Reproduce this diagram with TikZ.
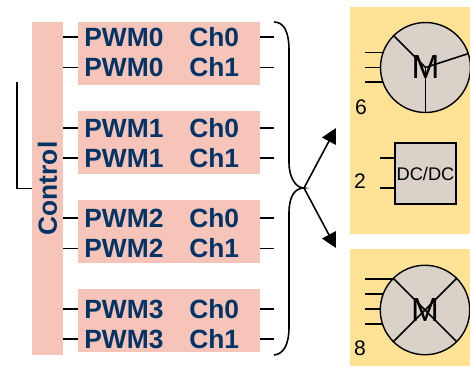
\documentclass[tikz,border=0pt]{standalone}
\usepackage{fontspec}
\setmainfont{Liberation Sans}
\usetikzlibrary{positioning, arrows.meta}
\definecolor{ctrlpink}{RGB}{246, 196, 184}
\definecolor{pwmnavy}{RGB}{0, 51, 102}
\definecolor{loadyellow}{RGB}{255, 226, 150}
\definecolor{motorgray}{RGB}{218, 210, 200}
\begin{document}
\begin{tikzpicture}[
        x=0.02cm, y=-0.02cm,
        pwmbox/.style={fill=ctrlpink, minimum width=3.64cm, minimum height=1.26cm, inner sep=0pt},
        pwmtxt/.style={font=\fontsize{15}{16}\selectfont\bfseries, text=pwmnavy, anchor=west,
            inner sep=0pt, text height=0.36cm, text depth=0cm},
        loadpanel/.style={fill=loadyellow, minimum width=2.4cm, inner sep=0pt},
        motor/.style={draw, circle, fill=motorgray, line width=0.8pt, minimum size=1.79cm, inner sep=0pt},
        wire/.style={line width=0.9pt},
        numlbl/.style={font=\fontsize{12}{14}\selectfont},
        mlbl/.style={font=\fontsize{19}{20}\selectfont, inner sep=0pt}
    ]
    \useasboundingbox (0, 0) rectangle (470, 366);

    % === Control bar ===
    \node[fill=ctrlpink, rotate=90, minimum width=6.66cm, minimum height=0.62cm, inner sep=0pt,
          font=\fontsize{15}{16}\selectfont\bfseries, text=pwmnavy] (ctrl) at (47.5, 188.5) {Control};
    \coordinate (fb) at (17, 82);
    \draw[wire] (fb) |- (ctrl.north);

    % === PWM blocks ===
    \node[pwmbox] (pwm0) at (169, 53.5) {};
    \node[pwmbox] (pwm1) at (169, 142.5) {};
    \node[pwmbox] (pwm2) at (169, 231.5) {};
    \node[pwmbox] (pwm3) at (169, 320.5) {};

    \node[pwmtxt] (p0a) at (84, 37) {PWM0};
    \node[pwmtxt] (c0a) at (189, 37) {Ch0};
    \node[pwmtxt] (p0b) at (84, 67.5) {PWM0};
    \node[pwmtxt] (c0b) at (189, 67.5) {Ch1};
    \node[pwmtxt] (p1a) at (84, 128) {PWM1};
    \node[pwmtxt] (c1a) at (189, 128) {Ch0};
    \node[pwmtxt] (p1b) at (84, 158) {PWM1};
    \node[pwmtxt] (c1b) at (189, 158) {Ch1};
    \node[pwmtxt] (p2a) at (84, 218) {PWM2};
    \node[pwmtxt] (c2a) at (189, 218) {Ch0};
    \node[pwmtxt] (p2b) at (84, 248.5) {PWM2};
    \node[pwmtxt] (c2b) at (189, 248.5) {Ch1};
    \node[pwmtxt] (p3a) at (84, 309) {PWM3};
    \node[pwmtxt] (c3a) at (189, 309) {Ch0};
    \node[pwmtxt] (p3b) at (84, 339) {PWM3};
    \node[pwmtxt] (c3b) at (189, 339) {Ch1};

    % === Brace ===
    \coordinate (tip) at (304, 188);
    \coordinate (bra) at (274, 188);
    \draw[wire] (274, 22) .. controls (284, 22) and (289, 32) .. (289, 50) -- (289, 163)
        .. controls (289, 176) and (295, 188) .. (tip)
        .. controls (295, 188) and (289, 196) .. (289, 213) -- (289, 327)
        .. controls (289, 344) and (284, 354) .. (274, 355);

    % === Stubs, control side ===
    \draw[wire] (ctrl.south |- p0a) -- (p0a -| pwm0.west);
    \draw[wire] (ctrl.south |- p0b) -- (p0b -| pwm0.west);
    \draw[wire] (ctrl.south |- p1a) -- (p1a -| pwm1.west);
    \draw[wire] (ctrl.south |- p1b) -- (p1b -| pwm1.west);
    \draw[wire] (ctrl.south |- p2a) -- (p2a -| pwm2.west);
    \draw[wire] (ctrl.south |- p2b) -- (p2b -| pwm2.west);
    \draw[wire] (ctrl.south |- p3a) -- (p3a -| pwm3.west);
    \draw[wire] (ctrl.south |- p3b) -- (p3b -| pwm3.west);

    % === Stubs, brace side ===
    \draw[wire] (pwm0.east |- c0a) -- (bra |- c0a);
    \draw[wire] (pwm0.east |- c0b) -- (bra |- c0b);
    \draw[wire] (pwm1.east |- c1a) -- (bra |- c1a);
    \draw[wire] (pwm1.east |- c1b) -- (bra |- c1b);
    \draw[wire] (pwm2.east |- c2a) -- (bra |- c2a);
    \draw[wire] (pwm2.east |- c2b) -- (bra |- c2b);
    \draw[wire] (pwm3.east |- c3a) -- (bra |- c3a);
    \draw[wire] (pwm3.east |- c3b) -- (bra |- c3b);

    % === Load panels ===
    \node[loadpanel, minimum height=4.54cm] (panelA) at (410, 120.5) {};
    \node[loadpanel, minimum height=2.34cm] (panelB) at (410, 307.5) {};

    \coordinate (upper) at (336, 128);
    \coordinate (lower) at (336, 248);
    \draw[wire, -{Triangle[length=3mm, width=3.1mm]}] (tip) -- (upper);
    \draw[wire, -{Triangle[length=3mm, width=3.1mm]}] (tip) -- (lower);

    % === Six wire motor ===
    \coordinate (m1a) at (365, 52.5);
    \coordinate (m1b) at (365, 67.5);
    \coordinate (m1c) at (365, 82);
    \node[motor, minimum size=1.8cm] (mot1) at (425.5, 67.5) {};
    \draw[wire] (m1a) -- (mot1.160 |- m1a);
    \draw[wire] (m1b) -- (mot1.180 |- m1b);
    \draw[wire] (m1c) -- (mot1.200 |- m1c);
    \draw[wire] (mot1.center) -- (mot1.135);
    \draw[wire] (mot1.center) -- (mot1.18);
    \draw[wire] (mot1.center) -- (mot1.south);
    \node[mlbl] (m1) at (mot1.center) {M};
    \node[numlbl] (n6) at (361, 107) {6};

    % === DC/DC ===
    \node[draw, fill=motorgray, line width=0.9pt, minimum size=1.22cm, inner sep=0pt,
          font=\fontsize{10.4}{12}\selectfont] (dcdc) at (425.5, 173.5) {DC/DC};
    \coordinate (d1) at (380, 158);
    \coordinate (d2) at (380, 188);
    \draw[wire] (d1) -- (dcdc.west |- d1);
    \draw[wire] (d2) -- (dcdc.west |- d2);
    \node[numlbl] (n2) at (360, 181) {2};

    % === Eight wire motor ===
    \coordinate (m2a) at (365, 279);
    \coordinate (m2b) at (365, 294);
    \coordinate (m2c) at (365, 309);
    \coordinate (m2d) at (365, 324);
    \node[motor] (mot2) at (425, 310) {};
    \draw[wire] (m2a) -- (mot2.136 |- m2a);
    \draw[wire] (m2b) -- (mot2.159 |- m2b);
    \draw[wire] (m2c) -- (mot2.179 |- m2c);
    \draw[wire] (m2d) -- (mot2.198 |- m2d);
    \draw[wire] (mot2.45) -- (mot2.225);
    \draw[wire] (mot2.135) -- (mot2.315);
    \node[mlbl] (m2) at (mot2.center) {M};
    \node[numlbl] (n8) at (360, 348) {8};
\end{tikzpicture}
\end{document}
